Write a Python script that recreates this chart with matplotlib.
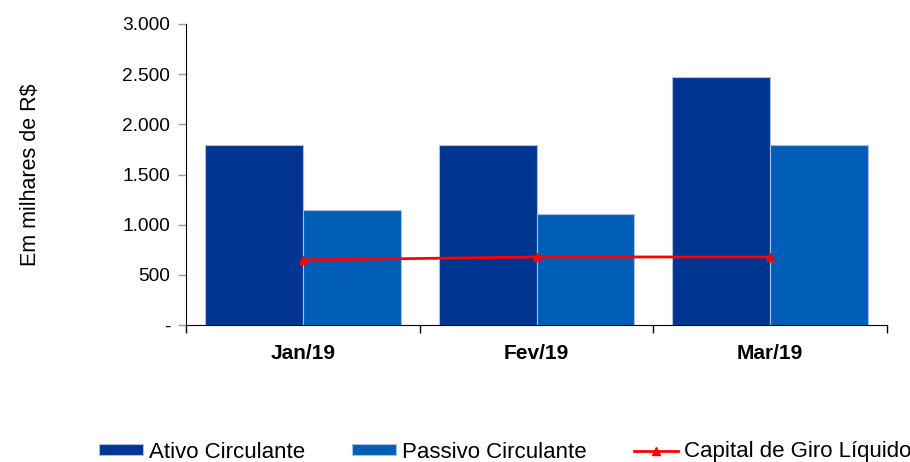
import matplotlib
matplotlib.use("Agg")
import matplotlib.pyplot as plt
import numpy as np
from matplotlib.ticker import FuncFormatter

categories = ["Jan/19", "Fev/19", "Mar/19"]
ativo = [1795, 1795, 2473]
passivo = [1147, 1107, 1795]
capital = [648, 678, 678]

plt.rcParams['font.family'] = ['Liberation Sans', 'DejaVu Sans']

fig = plt.figure(figsize=(9.1, 4.62), dpi=100)
ax = fig.add_axes([186/910, 137/462, 701/910, 301/462])

x = np.arange(len(categories))
w = 0.419
c1 = "#003591"
c2 = "#005EB8"
b1 = ax.bar(x - w/2, ativo, width=w, color=c1, edgecolor="#a9bfe0", linewidth=0.8, label="Ativo Circulante", zorder=2)
b2 = ax.bar(x + w/2, passivo, width=w, color=c2, edgecolor="#a9bfe0", linewidth=0.8, label="Passivo Circulante", zorder=2)
l1, = ax.plot(x, capital, color="#ff0000", linewidth=2, marker="^", markersize=6, label="Capital de Giro Líquido", zorder=3)

ax.set_xlim(-0.5, 2.5)
ax.set_ylim(0, 3000)
ax.set_yticks(np.arange(0, 3001, 500))

def fmt(v, pos):
    if v == 0:
        return "-"
    return f"{int(v):,}".replace(",", ".")
ax.yaxis.set_major_formatter(FuncFormatter(fmt))
ax.tick_params(axis="y", direction="out", length=6, color="#999999", width=1, labelsize=13.8, pad=5.5)

ax.set_xticks(x)
ax.set_xticklabels(categories, fontsize=15, fontweight="bold")
ax.tick_params(axis="x", length=0, pad=13.5)
ax.set_xticks([-0.5, 0.5, 1.5, 2.5], minor=True)
ax.tick_params(axis="x", which="minor", direction="out", length=6, color="#000000", width=1)

for s in ["top", "right"]:
    ax.spines[s].set_visible(False)
ax.spines["left"].set_color("black")
ax.spines["bottom"].set_color("black")

ax.set_ylabel("Em milhares de R$", fontsize=15.5)
ax.yaxis.set_label_coords(-(186 - 41) / 701, 0.5)

leg = fig.legend(handles=[b1, b2, l1], loc="center", bbox_to_anchor=(0.555, 10/462), ncol=3, frameon=False,
                 fontsize=16, handlelength=2.0, handleheight=0.4, columnspacing=2.1, handletextpad=0.27)

fig.savefig("out.png", dpi=100)
